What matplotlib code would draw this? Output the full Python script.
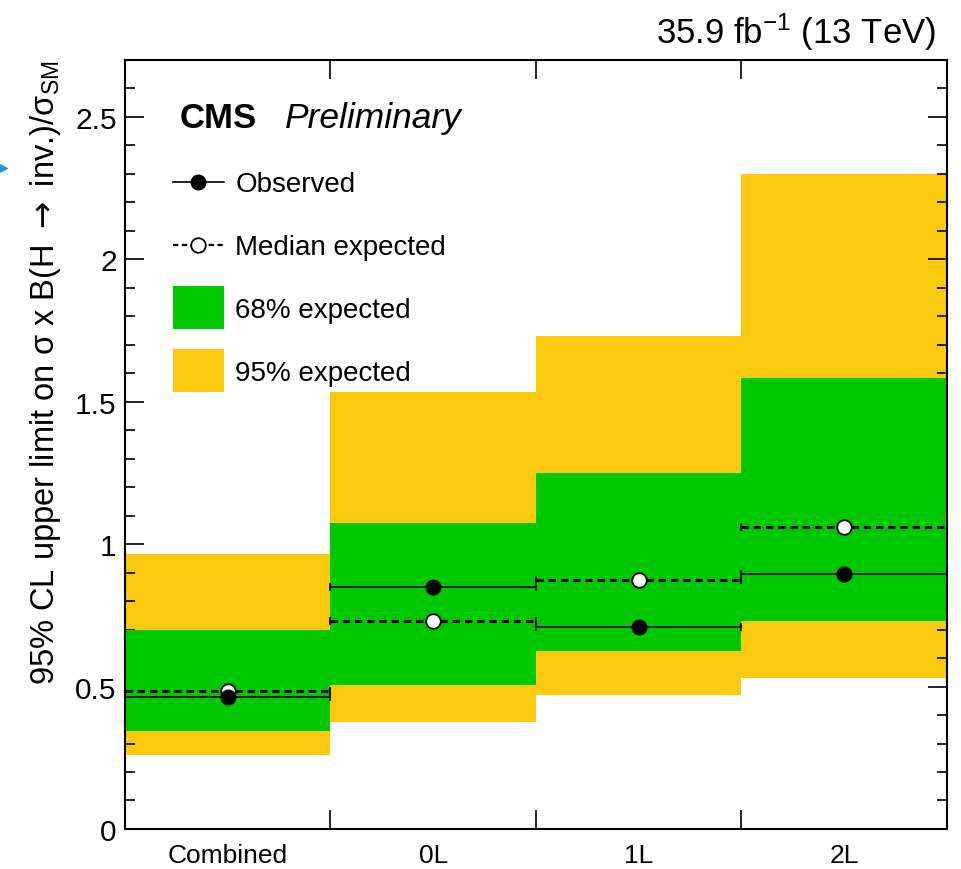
import matplotlib
matplotlib.use("Agg")
from matplotlib import pyplot as plt
from matplotlib.lines import Line2D
from matplotlib.patches import Patch
from matplotlib.legend_handler import HandlerLine2D
import numpy as np

# upper limits per channel
categories = ["Combined", "0L", "1L", "2L"]
observed = [0.465, 0.85, 0.71, 0.895]
expected = [0.485, 0.73, 0.875, 1.06]
band68_lo = [0.345, 0.505, 0.625, 0.73]
band68_hi = [0.70, 1.075, 1.25, 1.585]
band95_lo = [0.26, 0.375, 0.47, 0.53]
band95_hi = [0.965, 1.535, 1.73, 2.30]

green = "#00c800"
yellow = "#fbc90e"


class CenteredLine(HandlerLine2D):
    # put line handles at the middle of the handle box, level with the text
    def create_artists(self, legend, orig_handle, xdescent, ydescent,
                       width, height, fontsize, trans):
        return super().create_artists(legend, orig_handle, xdescent,
                                      2 * ydescent, width, height,
                                      fontsize, trans)


plt.rcParams["font.family"] = ["Liberation Sans", "DejaVu Sans"]
plt.rcParams["mathtext.fontset"] = "custom"
plt.rcParams["mathtext.rm"] = "Liberation Sans"
plt.rcParams["mathtext.sf"] = "DejaVu Sans"
plt.rcParams["mathtext.default"] = "regular"

fig = plt.figure(figsize=(9.62, 8.70), dpi=100)
ax = fig.add_axes([0.130, 0.046, 0.854, 0.884])

x = np.arange(len(categories)) + 0.5

ax.bar(x, np.array(band95_hi) - np.array(band95_lo), bottom=band95_lo,
       width=1.0, color=yellow, linewidth=0, zorder=1)
ax.bar(x, np.array(band68_hi) - np.array(band68_lo), bottom=band68_lo,
       width=1.0, color=green, linewidth=0, zorder=2)

# expected: dashed, open markers
eb = ax.errorbar(x, expected, xerr=0.5, fmt="o", color="black", mfc="white",
                 mec="black", ms=10.5, mew=1.3, elinewidth=2.2, capsize=2.8,
                 capthick=2.2, zorder=4)
eb[2][0].set_linestyle((0, (2.4, 1.6)))

# observed: solid, filled markers
ax.errorbar(x, observed, xerr=0.5, fmt="o", color="black", ms=10.5,
            elinewidth=1.2, capsize=2.8, capthick=1.2, zorder=5)

ax.set_xlim(0, 4)
ax.set_ylim(0, 2.7)

ax.set_xticks([1, 2, 3])
ax.set_xticklabels([])
ax.set_xticks(x, minor=True)
ax.set_xticklabels(categories, minor=True, fontsize=19)
ax.tick_params(axis="x", which="major", direction="in", length=14,
               width=1.2, top=True)
ax.tick_params(axis="x", which="minor", length=0, pad=10)

ax.set_yticks([0, 0.5, 1, 1.5, 2, 2.5])
ax.set_yticklabels(["0", "0.5", "1", "1.5", "2", "2.5"])
ax.set_yticks(np.arange(0, 2.71, 0.1), minor=True)
ax.tick_params(axis="y", which="major", direction="in", length=14,
               width=1.2, right=True, labelsize=21.5, pad=6)
ax.tick_params(axis="y", which="minor", direction="in", length=7,
               width=1.2, right=True)
for s in ax.spines.values():
    s.set_linewidth(1.5)

ax.set_ylabel(r"95% CL upper limit on σ x B(H $\mathsf{\rightarrow}$ inv.)/σ$_{SM}$",
              fontsize=23.5, loc="top")
ax.yaxis.set_label_coords(-0.076, 1.0)

ax.text(0.066, 0.913, "CMS", transform=ax.transAxes, fontsize=25,
        fontweight="bold", va="baseline")
ax.text(0.194, 0.913, "Preliminary", transform=ax.transAxes, fontsize=25.5,
        fontstyle="italic", va="baseline")

fig.text(0.973, 0.950, "35.9 fb$^{-1}$ (13 TeV)", fontsize=25, ha="right",
         va="baseline")

obs_handle = Line2D([], [], color="black", lw=1.2, marker="o", ms=10.5)
exp_handle = Line2D([], [], color="black", lw=1.6, ls=(0, (2.4, 1.6)),
                    marker="o", ms=10.5, mfc="white", mew=1.3)
handles = [
    obs_handle,
    exp_handle,
    Patch(facecolor=green, edgecolor="none"),
    Patch(facecolor=yellow, edgecolor="none"),
]
labels = ["Observed", "Median expected", "68% expected", "95% expected"]
ax.legend(handles, labels, loc="upper left", bbox_to_anchor=(0.058, 0.869),
          frameon=False, fontsize=20, handlelength=1.85, handleheight=2.0,
          handletextpad=0.4, labelspacing=0.72, borderpad=0, borderaxespad=0,
          handler_map={Line2D: CenteredLine()})

# small blue pointer at the left edge
fig.add_artist(Line2D([0.003], [0.806], marker=">", color="#1e9be6", ms=6,
                      transform=fig.transFigure))

fig.savefig("out.png", dpi=100)
